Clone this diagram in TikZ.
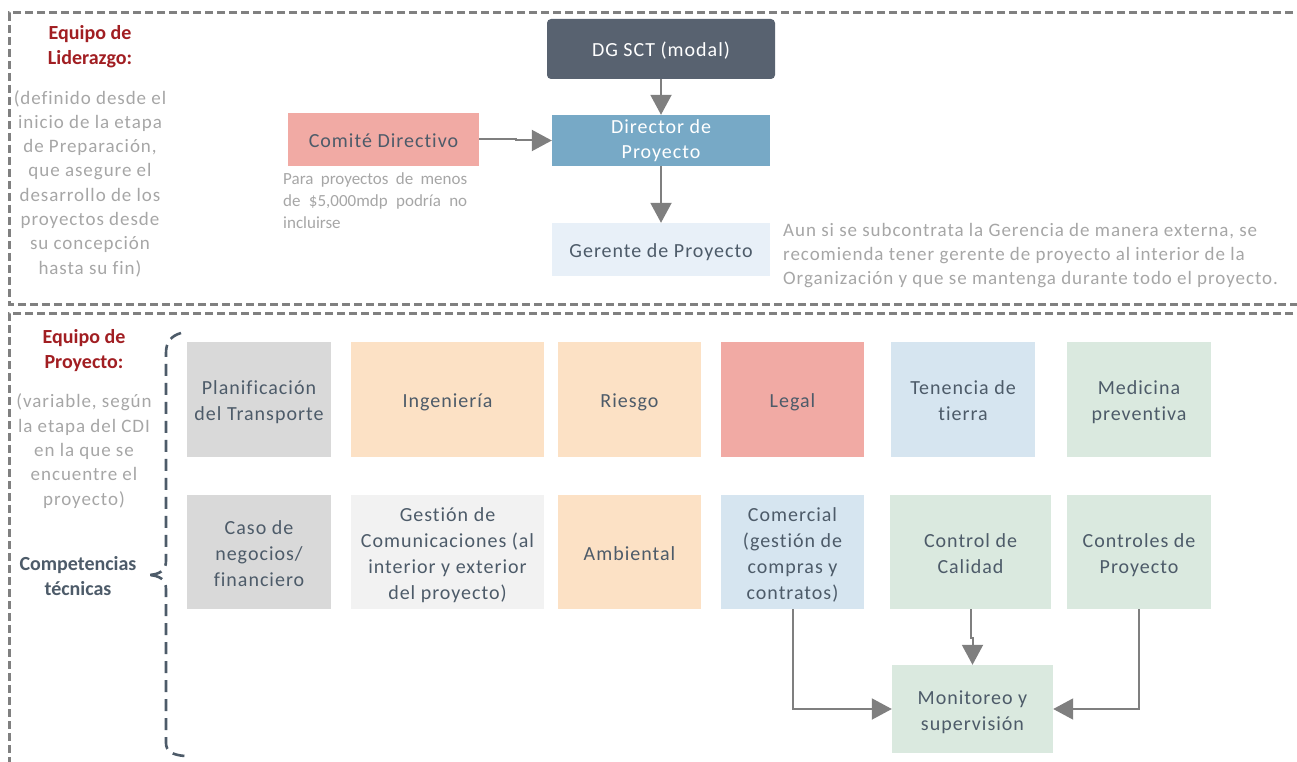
\documentclass[tikz,border=0pt]{standalone}
\usepackage{fontspec}
\setmainfont{Carlito}[LetterSpace=5, Ligatures={NoCommon}]
\newfontfamily\headfont{Carlito}[Ligatures={NoCommon}]
\usetikzlibrary{arrows.meta}

\definecolor{frame}{HTML}{808080}
\definecolor{txt}{HTML}{4D5B69}
\definecolor{note}{HTML}{A6A6A6}
\definecolor{head}{HTML}{A11E22}
\definecolor{dgfill}{HTML}{586270}
\definecolor{dirfill}{HTML}{77A9C6}
\definecolor{gerfill}{HTML}{E8F0F8}
\definecolor{rosefill}{HTML}{F1AAA4}
\definecolor{grayfill}{HTML}{D9D9D9}
\definecolor{palegray}{HTML}{F2F2F2}
\definecolor{peach}{HTML}{FCE1C5}
\definecolor{skyfill}{HTML}{D6E5F0}
\definecolor{mint}{HTML}{DAE9DF}
\definecolor{arrowgray}{HTML}{7F7F7F}

% box label: one-column table whose tall first-row rule centres the text
% on its line boxes rather than on its ink
\newcommand\boxlabel[2][23.8pt]{\begin{tabular}{@{}c@{}}\rule{0pt}{#1}#2\end{tabular}}

\tikzset{
  frameline/.style={draw=frame, line width=3pt, dash pattern=on 8pt off 4pt},
  bracket/.style={draw=txt, line width=2.6pt, dash pattern=on 12pt off 7pt},
  cell/.style={rectangle, inner sep=0pt, text=txt,
    font=\fontsize{20}{26}\selectfont},
  heading/.style={align=center, inner sep=0pt, text=head,
    font=\headfont\bfseries\fontsize{20}{25}\selectfont},
  remark/.style={align=center, inner sep=0pt, text=note,
    font=\fontsize{19}{24.3}\selectfont},
  link/.style={draw=arrowgray, line width=2pt, -{Triangle[length=20pt,width=21pt]}},
}

\begin{document}
\begin{tikzpicture}[x=1pt, y=-1pt]
\useasboundingbox (0,0) rectangle (1297,762);

% section frames
\draw[frameline] (1305,13) -- (9,13) -- (9,304) -- (1305,304);
\draw[frameline] (1305,313) -- (9,313) -- (9,775);

% ---- leadership team ----
\node[heading] (lidT) at (90,46.5) {Equipo de\\Liderazgo:};
\node[remark] (lidD) at (90,183.5) {(definido desde el\\inicio de la etapa\\de Preparación,\\que asegure el\\desarrollo de los\\proyectos desde\\su concepción\\hasta su fin)};

\node[cell, fill=dgfill, text=white, rounded corners=4pt,
  minimum width=228pt, minimum height=60pt] (dg) at (661,49) {\boxlabel{DG SCT (modal)}};
\node[cell, fill=dirfill, text=white, font=\fontsize{20}{25}\selectfont,
  minimum width=218pt, minimum height=51pt] (dir) at (661,140.5) {\boxlabel[18.4pt]{Director de\\Proyecto}};
\node[cell, fill=rosefill, minimum width=191pt, minimum height=53pt] (comite) at (383.5,139.5) {\boxlabel{Comité Directivo}};
\node[cell, fill=gerfill, minimum width=218pt, minimum height=53pt] (ger) at (661,249.5) {\boxlabel{Gerente de Proyecto}};

\node[anchor=west, align=left, inner sep=0pt, text=note,
  font=\headfont\fontsize{17}{22}\selectfont] (comNote) at (283,201)
  {\hbox to 184pt{Para\hfill proyectos\hfill de\hfill menos}\\
   \hbox to 184pt{de\hfill \$5,000mdp\hfill podría\hfill no}\\
   incluirse};
\node[anchor=west, align=left, inner sep=0pt, text=note,
  font=\fontsize{19}{24}\selectfont] (gerNote) at (783,256)
  {Aun si se subcontrata la Gerencia de manera externa, se\\
   recomienda tener gerente de proyecto al interior de la\\
   Organización y que se mantenga durante todo el proyecto.};

\draw[link] (dg) -- (dir);
\draw[link] (comite.east) -- ++(37,0) |- (dir.west);
\draw[link] (dir) -- (ger);

% ---- project team ----
\node[heading] (proT) at (84,350.5) {Equipo de\\Proyecto:};
\node[remark] (proD) at (84,451) {(variable, según\\la etapa del CDI\\en la que se\\encuentre el\\proyecto)};
\node[heading, text=txt] (comp) at (78,576.5) {Competencias\\técnicas};

\draw[bracket] (181,333) .. controls (171,336) and (166,342) .. (166,353)
  -- (166,561) .. controls (166,570) and (160,575) .. (147,575)
  .. controls (160,575) and (166,580) .. (166,589)
  -- (166,743) .. controls (166,751) and (172,755) .. (185,756);

% first row of competences
\node[cell, fill=grayfill, minimum width=144pt, minimum height=115pt] (plan) at (259,399.5) {\boxlabel{Planificación\\del Transporte}};
\node[cell, fill=peach, minimum width=193pt, minimum height=115pt] (ing) at (447.5,399.5) {\boxlabel{Ingeniería}};
\node[cell, fill=peach, minimum width=143pt, minimum height=115pt] (riesgo) at (629.5,399.5) {\boxlabel{Riesgo}};
\node[cell, fill=rosefill, minimum width=143pt, minimum height=115pt] (legal) at (792.5,399.5) {\boxlabel{Legal}};
\node[cell, fill=skyfill, minimum width=144pt, minimum height=115pt] (tierra) at (963,399.5) {\boxlabel{Tenencia de\\tierra}};
\node[cell, fill=mint, minimum width=144pt, minimum height=115pt] (medicina) at (1139,399.5) {\boxlabel{Medicina\\preventiva}};

% second row of competences
\node[cell, fill=grayfill, minimum width=144pt, minimum height=114pt] (caso) at (259,552) {\boxlabel{Caso de\\negocios/\\financiero}};
\node[cell, fill=palegray, minimum width=193pt, minimum height=114pt] (gestion) at (447.5,552) {\boxlabel{Gestión de\\Comunicaciones (al\\interior y exterior\\del proyecto)}};
\node[cell, fill=peach, minimum width=143pt, minimum height=114pt] (amb) at (629.5,552) {\boxlabel{Ambiental}};
\node[cell, fill=skyfill, minimum width=143pt, minimum height=114pt] (comercial) at (792.5,552) {\boxlabel{Comercial\\(gestión de\\compras y\\contratos)}};
\node[cell, fill=mint, minimum width=161pt, minimum height=114pt] (calidad) at (970.5,552) {\boxlabel{Control de\\Calidad}};
\node[cell, fill=mint, minimum width=144pt, minimum height=114pt] (controles) at (1139,552) {\boxlabel{Controles de\\Proyecto}};

\node[cell, fill=mint, minimum width=161pt, minimum height=88pt] (monitoreo) at (972.5,709) {\boxlabel{Monitoreo y\\supervisión}};

\draw[link] (comercial.south) |- (monitoreo.west);
\draw[link] (calidad.south) -- ++(0,29) -| (monitoreo.north);
\draw[link] (controles.south) |- (monitoreo.east);

\end{tikzpicture}
\end{document}
